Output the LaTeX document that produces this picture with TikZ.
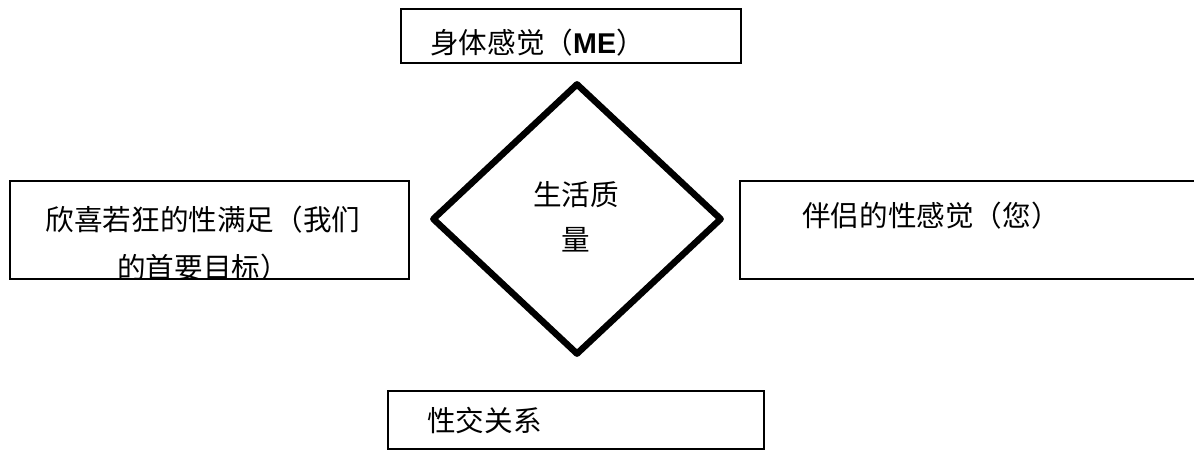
\documentclass[tikz,border=0pt]{standalone}
\usepackage{fontspec}
\setmainfont{Noto Sans CJK SC}
\newfontfamily\latinfont{Liberation Sans}
\usetikzlibrary{shapes.geometric}
\tikzset{
  box/.style={draw, line width=1.5pt, anchor=north west, inner sep=0pt},
  lbl/.style={font=\fontsize{28.6}{48}\selectfont, inner sep=0pt, text=black},
  quality/.style={diamond, draw, line width=6.5pt, line join=round, inner sep=0pt,
    minimum width=290pt, minimum height=272pt}
}
\begin{document}
\begin{tikzpicture}[x=1pt,y=-1pt]
\useasboundingbox (0,0) rectangle (1194,450);
\clip (0,0) rectangle (1194,450);
\fill[white] (0,0) rectangle (1194,450);
% boxes
\node[box, minimum width=340pt, minimum height=54pt] (me) at (400,8) {};
\node[box, minimum width=399pt, minimum height=98pt] (joy) at (9,180) {};
\node[box, minimum width=470pt, minimum height=98pt] (partner) at (739,180) {};
\node[box, minimum width=376pt, minimum height=58pt] (sex) at (387,390) {};
\node[quality] (q) at (577,219) {};
% texts
\node[lbl, anchor=west] (metext) at (430,43) {身体感觉（{\latinfont\bfseries ME}）};
\begin{scope}
  \clip (9,180) rectangle (408,278);
  \node[lbl, align=center] (joytext) at (203,244) {欣喜若狂的性满足（我们\\的首要目标）};
\end{scope}
\node[lbl, anchor=west] (partnertext) at (802,216) {伴侣的性感觉（您）};
\node[lbl, anchor=west] (sextext) at (427,421) {性交关系};
\node[lbl, align=center, font=\fontsize{28.6}{45}\selectfont] (qtext) at (576,217) {生活质\\量};
\end{tikzpicture}
\end{document}
